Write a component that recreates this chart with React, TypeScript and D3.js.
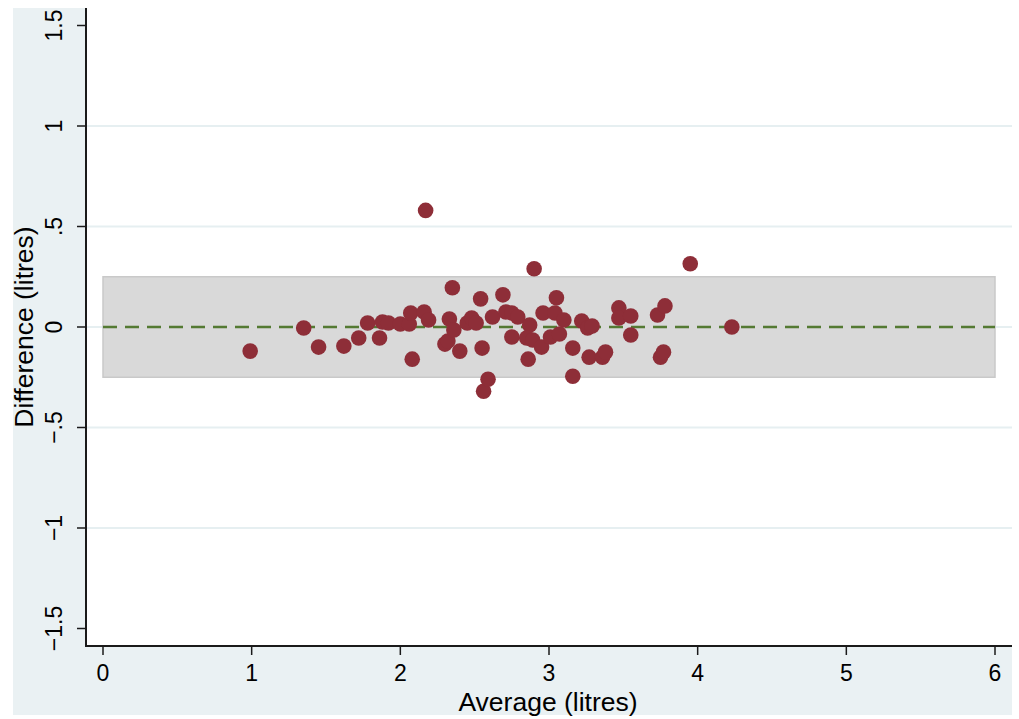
import * as d3 from 'd3'
import React from 'react'

// Bland-Altman style: average vs difference of two measurements (litres)
const avgValues = [
  0.99, 1.35, 1.45, 1.62, 1.72, 1.78, 1.86, 1.88, 1.92, 2.0, 2.06, 2.07, 2.08, 2.16, 2.17,
  2.19, 2.3, 2.32, 2.33, 2.35, 2.36, 2.4, 2.45, 2.48, 2.51, 2.54, 2.55, 2.56, 2.59, 2.62,
  2.69, 2.71, 2.75, 2.79, 2.75, 2.87, 2.85, 2.89, 2.95, 2.86, 2.9, 2.96, 3.05, 3.04, 3.1,
  3.01, 3.07, 3.16, 3.16, 3.22, 3.26, 3.29, 3.27, 3.36, 3.38, 3.47, 3.47, 3.55, 3.55, 3.73,
  3.78, 3.75, 3.77, 3.95, 4.23,
]
const diffValues = [
  -0.12, -0.005, -0.1, -0.095, -0.055, 0.02, -0.055, 0.025, 0.02, 0.015, 0.015, 0.07, -0.16, 0.075, 0.58,
  0.035, -0.085, -0.07, 0.04, 0.195, -0.015, -0.12, 0.02, 0.045, 0.02, 0.14, -0.105, -0.32, -0.26, 0.05,
  0.16, 0.075, 0.07, 0.05, -0.05, 0.01, -0.055, -0.065, -0.1, -0.16, 0.29, 0.07, 0.145, 0.07, 0.035,
  -0.05, -0.035, -0.105, -0.245, 0.03, -0.005, 0.005, -0.15, -0.15, -0.125, 0.095, 0.045, 0.055, -0.04, 0.06,
  0.105, -0.15, -0.125, 0.315, 0.0,
]
const limitsOfAgreement = [-0.25, 0.25]
const meanDiff = 0
const xTicks = [0, 1, 2, 3, 4, 5, 6]
const yTicks = [-1.5, -1, -0.5, 0, 0.5, 1, 1.5]
const yTickLabels = ['\u22121.5', '\u22121', '\u2212.5', '0', '.5', '1', '1.5']

export default function App() {
  const W = 1019
  const H = 719
  // graph region and plot region
  const gx0 = 13, gy0 = 8, gx1 = 1012, gy1 = 715
  const px0 = 86, py1 = 646

  const x = d3.scaleLinear().domain([0, 6]).range([103, 995])
  const y = d3.scaleLinear().domain([-1.5, 1.5]).range([628.5, 25.5])

  const points = avgValues.map((a, i) => ({ a, d: diffValues[i] }))
  const font = '"Liberation Sans", Arial, sans-serif'

  return (
    <svg width={W} height={H} style={{ position: 'absolute', left: 0, top: 0 }}>
      <rect x={gx0} y={gy0} width={gx1 - gx0} height={gy1 - gy0} fill="#eaf1f3" />
      <rect x={px0} y={gy0} width={gx1 - px0} height={py1 - gy0} fill="#ffffff" />

      {/* grid lines, interior ticks only */}
      {yTicks.slice(1, -1).map(t => (
        <line key={t} x1={px0} x2={gx1} y1={y(t)} y2={y(t)} stroke="#e6eff1" strokeWidth={2} />
      ))}

      {/* limits of agreement band */}
      <rect
        x={x(0)}
        y={y(limitsOfAgreement[1])}
        width={x(6) - x(0)}
        height={y(limitsOfAgreement[0]) - y(limitsOfAgreement[1])}
        fill="#d9d9d9"
        stroke="#c9c9c9"
        strokeWidth={1.5}
      />

      {/* mean difference */}
      <line
        x1={x(0)} x2={x(6)} y1={y(meanDiff)} y2={y(meanDiff)}
        stroke="#547a33" strokeWidth={2.5} strokeDasharray="14 8"
      />

      {points.map((p, i) => (
        <circle key={i} cx={x(p.a)} cy={y(p.d)} r={7.8} fill="#8e2e38" />
      ))}

      {/* axes */}
      <line x1={px0} x2={px0} y1={gy0} y2={py1 + 1} stroke="#1a1a1a" strokeWidth={2} />
      <line x1={px0 - 1} x2={gx1} y1={py1} y2={py1} stroke="#1a1a1a" strokeWidth={2} />

      {yTicks.map((t, i) => (
        <g key={t}>
          <line x1={px0 - 9} x2={px0} y1={y(t)} y2={y(t)} stroke="#1a1a1a" strokeWidth={1.5} />
          <text
            transform={`translate(62,${y(t)}) rotate(-90)`}
            textAnchor="middle"
            fontFamily={font}
            fontSize={23}
            fill="#000"
          >
            {yTickLabels[i]}
          </text>
        </g>
      ))}

      {xTicks.map(t => (
        <g key={t}>
          <line x1={x(t)} x2={x(t)} y1={py1} y2={py1 + 9} stroke="#1a1a1a" strokeWidth={1.5} />
          <text x={x(t)} y={681} textAnchor="middle" fontFamily={font} fontSize={23} fill="#000">
            {t}
          </text>
        </g>
      ))}

      <text x={548} y={711} textAnchor="middle" fontFamily={font} fontSize={26.5} fill="#000">
        Average (litres)
      </text>
      <text
        transform={`translate(33,${y(0)}) rotate(-90)`}
        textAnchor="middle"
        fontFamily={font}
        fontSize={26.5}
        fill="#000"
      >
        Difference (litres)
      </text>
    </svg>
  )
}
